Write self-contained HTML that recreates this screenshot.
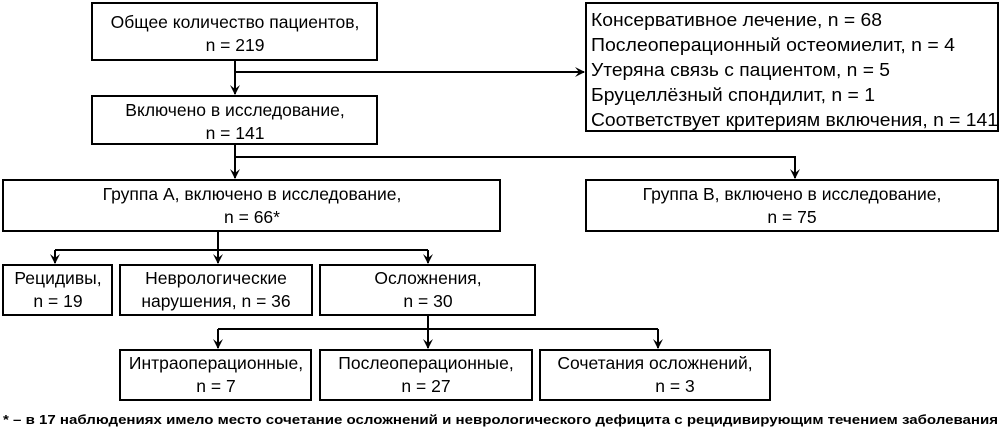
<!DOCTYPE html>
<html><head><meta charset="utf-8"><style>
html,body{margin:0;padding:0;background:#fff;}
svg{display:block}
text{font-family:"Liberation Sans","DejaVu Sans",sans-serif;font-size:17.5px;fill:#000}
.r{font-size:18px}
.f{font-size:12.5px;font-weight:bold}
</style></head><body>
<svg width="1004" height="433" viewBox="0 0 1004 433" xmlns="http://www.w3.org/2000/svg">
<defs><marker id="a" markerWidth="10" markerHeight="10" refX="9" refY="5" orient="auto" markerUnits="userSpaceOnUse"><path d="M0,0 L10,5 L0,10 L4,5 Z" fill="#000"/></marker></defs>
<g fill="none" stroke="#000" stroke-width="2">
<rect x="92" y="3" width="285" height="57"/>
<rect x="92" y="96" width="285" height="48"/>
<rect x="586" y="3" width="412" height="128"/>
<rect x="3" y="180" width="497" height="51"/>
<rect x="586" y="180" width="412" height="51"/>
<rect x="3" y="265" width="109" height="50"/>
<rect x="120" y="265" width="192" height="50"/>
<rect x="320" y="265" width="215" height="50"/>
<rect x="120" y="350" width="191" height="50"/>
<rect x="320" y="350" width="212" height="50"/>
<rect x="540" y="350" width="230" height="50"/>
<path d="M235,60 V94" marker-end="url(#a)"/>
<path d="M235,72 H584" marker-end="url(#a)"/>
<path d="M235,144 V178" marker-end="url(#a)"/>
<path d="M235,157 H795 V178" marker-end="url(#a)"/>
<path d="M218,231 V263" marker-end="url(#a)"/>
<path d="M55,250 H428" />
<path d="M55,250 V263" marker-end="url(#a)"/>
<path d="M428,250 V263" marker-end="url(#a)"/>
<path d="M428,315 V348" marker-end="url(#a)"/>
<path d="M218,329 H658"/>
<path d="M218,329 V348" marker-end="url(#a)"/>
<path d="M658,329 V348" marker-end="url(#a)"/>
</g>
<g text-anchor="middle">
<text x="235" y="28">Общее количество пациентов,</text>
<text x="235" y="51">n = 219</text>
<text x="235" y="116">Включено в исследование,</text>
<text x="235" y="139">n = 141</text>
<text x="252" y="200">Группа А, включено в исследование,</text>
<text x="252" y="223">n = 66*</text>
<text x="792" y="200">Группа В, включено в исследование,</text>
<text x="792" y="223">n = 75</text>
<text x="58" y="284">Рецидивы,</text>
<text x="58" y="307">n = 19</text>
<text x="216" y="284">Неврологические</text>
<text x="216" y="307">нарушения, n = 36</text>
<text x="428" y="284">Осложнения,</text>
<text x="428" y="307">n = 30</text>
<text x="216" y="369">Интраоперационные,</text>
<text x="216" y="392">n = 7</text>
<text x="426" y="369">Послеоперационные,</text>
<text x="426" y="392">n = 27</text>
<text x="655" y="369">Сочетания осложнений,</text>
<text x="675" y="392">n = 3</text>
</g>
<text class="r" x="591" y="26" textLength="291" lengthAdjust="spacingAndGlyphs">Консервативное лечение, n = 68</text>
<text class="r" x="591" y="51" textLength="364" lengthAdjust="spacingAndGlyphs">Послеоперационный остеомиелит, n = 4</text>
<text class="r" x="591" y="76" textLength="299" lengthAdjust="spacingAndGlyphs">Утеряна связь с пациентом, n = 5</text>
<text class="r" x="591" y="101" textLength="284" lengthAdjust="spacingAndGlyphs">Бруцеллёзный спондилит, n = 1</text>
<text class="r" x="591" y="126" textLength="407" lengthAdjust="spacingAndGlyphs">Соответствует критериям включения, n = 141</text>
<text class="f" x="3" y="424" textLength="995" lengthAdjust="spacingAndGlyphs">* – в 17 наблюдениях имело место сочетание осложнений и неврологического дефицита с рецидивирующим течением заболевания</text>
</svg>
</body></html>
